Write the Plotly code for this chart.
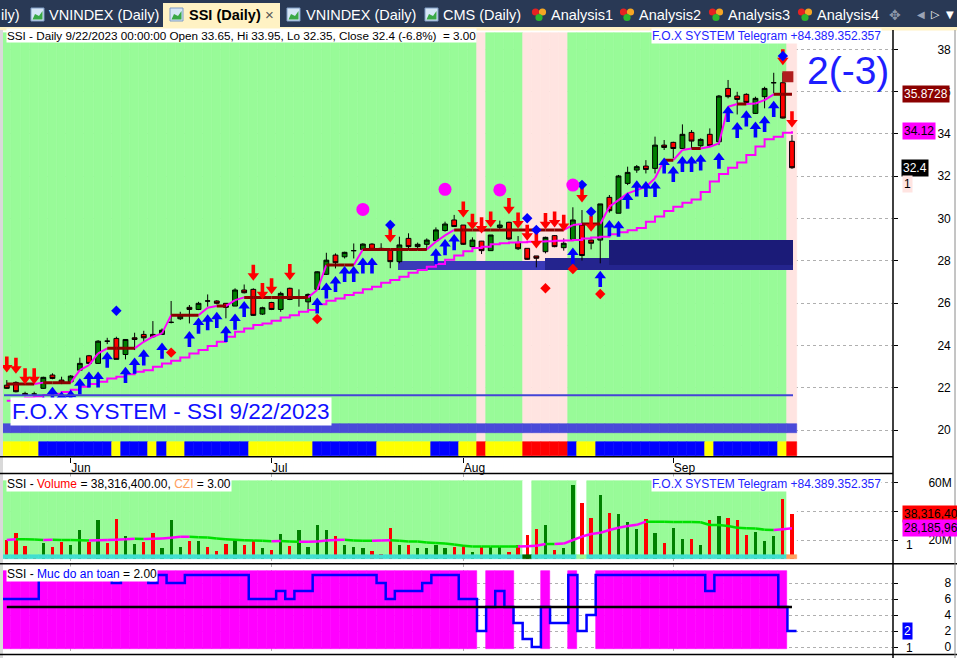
import plotly.graph_objects as go

# ====================== DATA ======================
month_labels = ["Jun", "Jul", "Aug", "Sep"]
month_start_bars = [7, 29, 50, 73]

opens = [22.12, 22.25, 21.73, 21.70, 21.97, 22.60, 22.36, 22.28, 22.83, 23.51,
         23.15, 24.20, 24.33, 23.57, 24.36, 24.52, 24.52, 24.52, 25.09, 25.26,
         25.80, 25.70, 26.10, 26.10, 25.99, 25.86, 26.62, 26.65, 25.48, 26.03,
         25.70, 26.70, 26.22, 26.06, 26.65, 27.36, 28.27, 28.19, 28.48, 28.54,
         28.79, 28.59, 28.51, 27.96, 29.06, 28.67, 28.78, 28.95, 29.43, 29.93,
         29.69, 28.67, 28.93, 28.48, 29.58, 29.82, 28.87, 28.59, 28.23, 28.43,
         29.19, 28.62, 29.01, 29.69, 28.98, 28.98, 31.00, 30.25, 31.66, 32.29,
         32.48, 32.37, 33.47, 33.60, 33.31, 34.07, 33.44, 33.98, 33.63, 36.15,
         35.79, 35.87, 34.97, 35.76, 36.42, 36.42, 33.65]
highs = [22.36, 22.30, 21.81, 21.81, 22.52, 22.68, 22.52, 22.60, 23.42, 23.55,
         24.25, 24.36, 24.41, 24.28, 24.60, 24.69, 25.15, 24.80, 26.10, 25.59,
         25.91, 26.06, 26.41, 26.14, 25.99, 26.70, 26.88, 26.70, 25.83, 26.06,
         26.54, 26.73, 26.65, 26.46, 27.51, 28.38, 28.35, 28.43, 28.82, 28.83,
         28.83, 28.83, 28.51, 29.14, 29.30, 28.86, 29.06, 29.58, 29.85, 30.17,
         29.69, 29.11, 28.94, 29.22, 29.90, 29.85, 29.17, 28.59, 28.23, 29.14,
         29.22, 29.06, 30.53, 30.40, 29.02, 30.69, 31.11, 32.06, 32.45, 32.53,
         32.76, 33.87, 33.71, 33.63, 34.45, 34.18, 33.79, 34.26, 35.84, 36.55,
         35.99, 35.92, 35.76, 36.23, 36.89, 36.89, 33.95]
lows = [21.94, 21.78, 21.60, 21.57, 21.95, 22.40, 22.17, 22.26, 22.80, 23.12,
        23.12, 24.06, 23.34, 23.34, 23.78, 24.17, 24.36, 24.49, 25.04, 25.20,
        25.04, 25.67, 25.83, 25.94, 25.28, 25.86, 26.46, 25.39, 25.44, 25.67,
        25.59, 26.14, 25.83, 25.67, 26.62, 27.33, 27.64, 28.11, 28.11, 28.51,
        28.51, 28.48, 27.65, 27.88, 28.51, 28.51, 28.51, 28.95, 29.38, 29.62,
        28.75, 28.59, 28.32, 28.48, 29.43, 28.98, 28.51, 28.04, 27.69, 28.35,
        28.64, 28.48, 28.98, 28.01, 28.54, 27.88, 30.28, 30.25, 31.58, 32.16,
        32.13, 32.13, 33.24, 32.84, 33.31, 33.31, 33.39, 33.39, 33.47, 35.68,
        34.92, 35.47, 34.94, 35.21, 35.92, 34.73, 32.35]
closes = [21.97, 21.81, 21.64, 21.70, 22.49, 22.44, 22.23, 22.55, 23.15, 23.15,
          24.20, 24.20, 23.34, 24.28, 24.28, 24.36, 24.41, 24.72, 25.09, 25.39,
          25.70, 25.99, 26.10, 25.99, 25.80, 26.62, 26.49, 25.42, 25.78, 25.70,
          26.46, 26.17, 26.22, 26.41, 27.48, 28.03, 27.91, 28.40, 28.48, 28.79,
          28.54, 28.51, 27.96, 28.75, 28.67, 28.78, 28.98, 29.46, 29.74, 29.62,
          28.78, 28.98, 28.48, 29.22, 29.69, 29.03, 28.57, 28.07, 28.12, 29.11,
          28.67, 28.83, 29.93, 28.25, 28.83, 30.69, 30.37, 32.01, 32.18, 32.45,
          32.32, 33.47, 33.36, 33.31, 33.98, 33.66, 33.74, 33.44, 35.79, 35.76,
          35.63, 35.49, 35.68, 36.15, 36.42, 34.75, 32.40]

volumes_m = [20.0, 24.7, 15.8, 8.4, 17.7, 15.4, 18.9, 16.5, 27.0, 18.9,
             34.0, 17.7, 34.7, 22.8, 17.2, 18.9, 24.7, 14.7, 34.0, 15.4,
             19.3, 19.3, 15.4, 12.6, 17.2, 21.0, 16.3, 20.0, 14.7, 13.1,
             24.2, 16.1, 27.0, 15.4, 30.5, 27.0, 22.8, 16.5, 15.4, 14.7,
             12.6, 10.3, 28.6, 16.5, 16.5, 14.2, 14.2, 16.5, 14.2, 15.4,
             16.5, 11.9, 15.4, 15.4, 15.4, 11.9, 16.5, 23.5, 27.7, 30.5,
             13.1, 14.2, 58.4, 46.1, 35.6, 51.4, 39.1, 38.2, 32.8, 27.5,
             34.4, 25.1, 18.2, 28.2, 20.5, 20.5, 16.5, 34.0, 36.8, 35.4,
             34.0, 23.5, 25.8, 19.6, 22.8, 48.6, 38.3164]
volume_dir = ("RRRRGRRGGR" "GRRGGRRGGG" "RGRRRGRRGR" "GRGGGGRGGG" "RRRGRGGGGR"
              "RGRGGRRRRG" "RGGRRGRGGG" "RGRGGRGRGR" "RRGGGRR")
volume_ma_m = [20.0, 20.5, 20.5, 20.3, 20.0, 20.2, 20.0, 20.0, 19.8, 19.6,
               19.9, 20.0, 20.2, 20.6, 20.8, 20.7, 20.9, 21.0, 21.6, 22.2,
               22.3, 22.0, 21.7, 21.0, 20.6, 20.2, 19.8, 19.6, 19.4, 19.2,
               19.3, 18.9, 18.7, 18.8, 19.0, 19.6, 20.0, 20.1, 19.7, 19.5,
               19.5, 19.7, 19.8, 19.4, 19.0, 18.9, 18.2, 17.9, 17.5, 16.8,
               16.0, 15.4, 15.4, 15.4, 15.4, 15.4, 15.4, 15.6, 16.0, 17.2,
               17.2, 17.5, 20.0, 22.4, 24.2, 25.0, 27.0, 28.6, 29.8, 30.6,
               32.8, 32.8, 32.8, 32.6, 32.5, 32.5, 32.4, 30.5, 30.4, 29.8,
               28.6, 28.2, 28.0, 27.2, 27.0, 27.5, 28.18596]

trail_upper = [22.17, 22.17, 22.17, 22.17, 22.24, 22.24, 22.24, 22.24, 22.83, 23.07,
               23.62, 23.86, 23.86, 23.86, 23.86, 24.17, 24.41, 24.57, 25.43, 25.43,
               25.43, 25.43, 25.78, 25.86, 25.86, 26.14, 26.27, 26.27, 26.27, 26.27,
               26.27, 26.27, 26.27, 26.27, 26.62, 27.80, 27.80, 27.80, 27.80, 28.54,
               28.54, 28.54, 28.54, 28.54, 28.54, 28.54, 28.54, 28.90, 29.20, 29.46,
               29.46, 29.46, 29.46, 29.46, 29.46, 29.46, 29.46, 29.46, 29.46, 29.46,
               29.46, 29.46, 29.69, 29.74, 29.74, 29.74, 30.56, 30.87, 31.19, 31.34,
               31.50, 31.90, 32.76, 32.76, 33.24, 33.31, 33.31, 33.39, 33.55, 35.28,
               35.41, 35.41, 35.44, 35.60, 35.8728, 35.8728, 35.8728]
trail_lower = [21.38, 21.45, 21.52, 21.58, 21.65, 21.72, 21.80, 21.90, 22.05, 22.17,
               22.28, 22.44, 22.52, 22.64, 22.75, 22.83, 22.99, 23.15, 23.27, 23.43,
               23.62, 23.78, 23.97, 24.17, 24.41, 24.65, 24.80, 24.96, 25.04, 25.17,
               25.32, 25.43, 25.59, 25.67, 25.95, 26.11, 26.22, 26.38, 26.49, 26.65,
               26.77, 26.96, 27.09, 27.25, 27.44, 27.57, 27.72, 27.85, 28.05, 28.25,
               28.45, 28.60, 28.67, 28.78, 28.83, 28.86, 28.88, 28.90, 28.91, 28.93,
               28.95, 28.96, 28.98, 29.05, 29.10, 29.14, 29.25, 29.35, 29.45, 29.55,
               29.85, 30.10, 30.35, 30.55, 30.75, 30.90, 31.25, 31.75, 32.10, 32.40,
               32.65, 33.00, 33.40, 33.75, 33.87, 34.05, 34.12]

safety_level = [6, 6, 6, 6, 9, 9, 9, 9, 9, 9,
                9, 9, 8, 9, 9, 9, 8, 9, 8, 8,
                9, 9, 9, 9, 9, 9, 9, 6, 6, 6,
                7, 6, 7, 7, 9, 9, 9, 9, 9, 9,
                9, 8, 6, 7, 7, 7, 8, 9, 9, 9,
                6, 6, 2, 5, 7, 5, 3, 1, 0, 5,
                3, 3, 9, 2, 4, 9, 9, 9, 9, 9,
                9, 9, 9, 9, 9, 9, 9, 7, 9, 9,
                9, 9, 9, 9, 9, 5, 2]
safety_threshold = 5

# Y = yellow, B = blue, R = red state strip under the price pane
state_strip = ("YYYY" "BBBBBBBB" "Y" "BBB" "Y" "B" "YY" "BBBBBBB" "YYYYYYY" "BBBBBBB"
               "YYYYYY" "BBB" "YY" "R" "YYYY" "RRRRR" "B" "YY" "BBBBBBBBBBBB" "Y"
               "BBBBBBB" "Y" "R")
# G = green background, P = pink background in price pane
price_bg_state = "G" * 52 + "P" + "GGGG" + "PPPPP" + "G" * 24 + "P"
volume_bg_gap_bars = [57, 63, 86]
czi_special = {57: "#006400", 63: "#98FB98", 86: "#FFA060"}

sell_bars = [0, 1, 2, 3, 27, 28, 29, 31, 42, 50, 51, 52, 53, 55, 56, 57, 58, 59,
             60, 61, 63, 64, 85, 86]
blue_diamonds = [(12, 25.64), (42, 29.69), (57, 30.01), (58, 29.46), (63, 31.59),
                 (64, 30.32), (85, 37.68)]
red_diamonds = [(18, 23.66), (34, 25.25), (59, 26.70), (62, 27.61), (65, 26.43)]
magenta_circles = [(39, 30.43), (48, 31.38), (54, 31.35), (62, 31.58)]
flag_bar, flag_price = 86, 36.70

# support zones: (from bar, to bar, low, high, colour)
zones = [(42.9, 86.1, 27.58, 28.00, "#3A3AB8"),
         (59.0, 86.1, 27.58, 28.15, "#24248E"),
         (66.0, 86.1, 27.80, 28.98, "#1B1B78")]
wave_count_text = "2(-3)"
symbol, date_text, czi_value = "SSI", "9/22/2023", 3.00

# ====================== LAYOUT GEOMETRY ======================
W, H = 957, 658
FONT = "Liberation Sans, Arial, sans-serif"


def pxx(p):
    return p / W


def pxy(p):
    return 1 - p / H


n = len(closes)
idx = list(range(n))
X_LEFT, X_RIGHT, BAR0, BARW = 3.0, 893.0, 6.8, 9.13
x_range = [(X_LEFT - BAR0) / BARW, (X_RIGHT - BAR0) / BARW]


def xdata(px):
    return (px - BAR0) / BARW


P_TOP, P_BOT = 28.0, 456.7
p_range = [18.738, 39.007]
ppu = (P_BOT - P_TOP) / (p_range[1] - p_range[0])


def price_at(py):
    return p_range[1] - (py - P_TOP) / ppu


V_TOP, V_BOT = 474.0, 563.5
v_range = [3.6, 66.07]
vpu = (V_BOT - V_TOP) / (v_range[1] - v_range[0])


def vol_at(py):
    return v_range[1] - (py - V_TOP) / vpu


I_TOP, I_BOT = 564.0, 655.0
i_range = [-1.0, 10.375]

fig = go.Figure()

# ---------- price pane ----------
bg_map = {"G": "#98FB98", "P": "#FFE4E1"}
bgc = [bg_map[c] for c in price_bg_state]
lo, hi = price_at(441.7), price_at(33.0)
fig.add_trace(go.Bar(x=idx, y=[hi - lo] * n, base=[lo] * n, width=1.0,
                     marker=dict(color=bgc, line=dict(color=bgc, width=0.6)),
                     hoverinfo="skip", yaxis="y"))
strip_map = {"Y": "#FFFF00", "B": "#0000FF", "R": "#FF0000"}
sc = [strip_map[c] for c in state_strip]
lo, hi = price_at(455.7), price_at(441.7)
fig.add_trace(go.Bar(x=idx, y=[hi - lo] * n, base=[lo] * n, width=1.0,
                     marker=dict(color=sc, line=dict(color=sc, width=0.6)),
                     hoverinfo="skip", yaxis="y"))
lo, hi = price_at(432.7), price_at(424.0)
fig.add_trace(go.Bar(x=idx, y=[hi - lo] * n, base=[lo] * n, width=1.0,
                     marker=dict(color="#4A4AD9", line=dict(color="#4A4AD9", width=0.6)),
                     hoverinfo="skip", yaxis="y"))
for (a, b, zl, zh, col) in zones:
    fig.add_trace(go.Bar(x=[(a + b) / 2], y=[zh - zl], base=[zl], width=[b - a],
                         marker=dict(color=col, line=dict(width=0)),
                         hoverinfo="skip", yaxis="y"))

# lower trailing line
fig.add_trace(go.Scatter(x=idx, y=trail_lower, mode="lines", line=dict(color="#FF00FF", width=2, shape="hv"),
                         hoverinfo="skip", yaxis="y"))


def segs(vals, pick):
    xs, ys = [], []
    for i in range(1, len(vals)):
        if pick(vals[i - 1], vals[i]):
            xs += [i - 1, i, None]
            ys += [vals[i - 1], vals[i], None]
    return xs, ys


xs, ys = segs(trail_upper, lambda a, b: b != a)
fig.add_trace(go.Scatter(x=xs, y=ys, mode="lines", line=dict(color="#FF00FF", width=2),
                         hoverinfo="skip", yaxis="y"))
xs, ys = segs(trail_upper, lambda a, b: b == a)
fig.add_trace(go.Scatter(x=xs, y=ys, mode="lines", line=dict(color="#8B0000", width=3),
                         hoverinfo="skip", yaxis="y"))

fig.add_trace(go.Candlestick(
    x=idx, open=opens, high=highs, low=lows, close=closes,
    increasing=dict(line=dict(color="#000000", width=1), fillcolor="#008000"),
    decreasing=dict(line=dict(color="#000000", width=1), fillcolor="#FF0000"),
    whiskerwidth=0, hoverinfo="skip", yaxis="y"))

# arrows
buy_bars = [i for i, c in enumerate(state_strip) if c == "B"]
GAP, R, STEM = 7.5, 5.0, 8.0
tips = [lows[i] - GAP / ppu for i in buy_bars]
fig.add_trace(go.Scatter(x=buy_bars, y=[t - (1.5 * R + STEM / 2 - 1) / ppu for t in tips], mode="markers",
                         marker=dict(symbol="line-ns", size=STEM, line=dict(color="#0000FF", width=3.6)),
                         hoverinfo="skip", yaxis="y"))
fig.add_trace(go.Scatter(x=buy_bars, y=[t - R / ppu for t in tips], mode="markers",
                         marker=dict(symbol="triangle-up", size=2 * R, color="#0000FF", line=dict(width=0)),
                         hoverinfo="skip", yaxis="y"))
tips = [highs[i] + GAP / ppu for i in sell_bars]
fig.add_trace(go.Scatter(x=sell_bars, y=[t + (1.5 * R + STEM / 2 - 1) / ppu for t in tips], mode="markers",
                         marker=dict(symbol="line-ns", size=STEM, line=dict(color="#FF0000", width=3.6)),
                         hoverinfo="skip", yaxis="y"))
fig.add_trace(go.Scatter(x=sell_bars, y=[t + R / ppu for t in tips], mode="markers",
                         marker=dict(symbol="triangle-down", size=2 * R, color="#FF0000", line=dict(width=0)),
                         hoverinfo="skip", yaxis="y"))
for pts, col in ((blue_diamonds, "#0000FF"), (red_diamonds, "#FF0000")):
    fig.add_trace(go.Scatter(x=[p[0] for p in pts], y=[p[1] for p in pts], mode="markers",
                             marker=dict(symbol="diamond", size=8, color=col, line=dict(width=0)),
                             hoverinfo="skip", yaxis="y"))
fig.add_trace(go.Scatter(x=[p[0] for p in magenta_circles], y=[p[1] for p in magenta_circles], mode="markers",
                         marker=dict(symbol="circle", size=13, color="#FF00FF", line=dict(width=0)),
                         hoverinfo="skip", yaxis="y"))
fig.add_trace(go.Scatter(x=[flag_bar - 0.45], y=[flag_price], mode="markers",
                         marker=dict(symbol="square", size=11, color="#B01E1E", line=dict(width=0)),
                         hoverinfo="skip", yaxis="y"))

# ---------- volume pane ----------
vbg = ["#FFFFFF" if i in volume_bg_gap_bars else "#98FB98" for i in idx]
lo, hi = vol_at(555.0), vol_at(480.7)
fig.add_trace(go.Bar(x=idx, y=[hi - lo] * n, base=[lo] * n, width=1.0,
                     marker=dict(color=vbg, line=dict(color=vbg, width=0.6)),
                     hoverinfo="skip", yaxis="y2"))
vbase = vol_at(559.0)
vcol = ["#FF0000" if c == "R" else "#008000" for c in volume_dir]
fig.add_trace(go.Bar(x=idx, y=[v - vbase for v in volumes_m], base=[vbase] * n, width=0.36,
                     marker=dict(color=vcol, line=dict(width=0)), hoverinfo="skip", yaxis="y2"))
cz = [czi_special.get(i, "#40E0D0") for i in idx]
lo, hi = vol_at(559.0), vol_at(555.0)
fig.add_trace(go.Bar(x=idx, y=[hi - lo] * n, base=[lo] * n, width=1.0,
                     marker=dict(color=cz, line=dict(color=cz, width=0.6)),
                     hoverinfo="skip", yaxis="y2"))
xs, ys = segs(volume_ma_m, lambda a, b: b <= a)
fig.add_trace(go.Scatter(x=xs, y=ys, mode="lines", line=dict(color="#00E000", width=2.5),
                         hoverinfo="skip", yaxis="y2"))
xs, ys = segs(volume_ma_m, lambda a, b: b > a)
fig.add_trace(go.Scatter(x=xs, y=ys, mode="lines", line=dict(color="#FF00FF", width=2.5),
                         hoverinfo="skip", yaxis="y2"))

# ---------- safety pane ----------
on = [i for i in idx if safety_level[i] >= safety_threshold]
fig.add_trace(go.Bar(x=on, y=[9.75] * len(on), base=[-0.25] * len(on), width=1.0,
                     marker=dict(color="#FF00FF", line=dict(color="#FF00FF", width=0.6)),
                     hoverinfo="skip", yaxis="y3"))
fig.add_trace(go.Scatter(x=[i - 0.5 for i in idx] + [n - 0.5], y=safety_level + [safety_level[-1]],
                         mode="lines", line=dict(color="#0000FF", width=2.5, shape="hv"),
                         hoverinfo="skip", yaxis="y3"))
fig.add_trace(go.Scatter(x=[0, n - 1], y=[safety_threshold] * 2, mode="lines",
                         line=dict(color="#000000", width=2.5), hoverinfo="skip", yaxis="y3"))

# pointer triangles for right-hand value labels
for yv, col, ax in ((closes[-1], "#000000", "y"), (volumes_m[-1], "#FF0000", "y2"),
                    (safety_level[-1], "#0000FF", "y3")):
    fig.add_trace(go.Scatter(x=[xdata(898.3)], y=[yv], mode="markers", cliponaxis=False,
                             marker=dict(symbol="triangle-left", size=9, color=col, line=dict(width=0)),
                             hoverinfo="skip", yaxis=ax))

# ====================== AXES ======================
grid = dict(showgrid=True, gridcolor="#AFAFAF", griddash="dot", gridwidth=1, zeroline=False)
yax = dict(side="right", anchor="x", ticks="outside", ticklen=4, tickcolor="#000000",
           tickfont=dict(family=FONT, size=12, color="#000000"), showline=False, fixedrange=True, **grid)
fig.update_layout(
    width=W, height=H, autosize=False, margin=dict(l=0, r=0, t=0, b=0),
    paper_bgcolor="#FFFFFF", plot_bgcolor="#FFFFFF", showlegend=False,
    barmode="overlay", bargap=0, boxgap=0.25, font=dict(family=FONT, size=12, color="#000000"),
    xaxis=dict(domain=[pxx(X_LEFT), pxx(X_RIGHT)], range=x_range, anchor="y",
               tickvals=month_start_bars, ticktext=month_labels, ticks="outside", ticklen=5,
               tickcolor="#000000", ticklabelposition="outside right",
               tickfont=dict(family=FONT, size=12, color="#000000"),
               rangeslider=dict(visible=False), showline=False, fixedrange=True, **grid),
    yaxis=dict(domain=[pxy(P_BOT), pxy(P_TOP)], range=p_range, tickvals=list(range(20, 39, 2)),
               ticklabelstandoff=37, **yax),
    yaxis2=dict(domain=[pxy(V_BOT), pxy(V_TOP)], range=v_range, tickvals=[20, 40, 60],
                ticktext=["20M", "40M", "60M"], ticklabelstandoff=28, **yax),
    yaxis3=dict(domain=[pxy(I_BOT), pxy(I_TOP)], range=i_range, tickvals=[0, 2, 4, 6, 8],
                ticklabelstandoff=44, **yax),
)

# ====================== SHAPES (frame, tab bar) ======================
shapes = []


def rect(x0, y0, x1, y1, fill, line=None, lw=0):
    shapes.append(dict(type="rect", xref="paper", yref="paper", x0=pxx(x0), x1=pxx(x1),
                       y0=pxy(y1), y1=pxy(y0), fillcolor=fill,
                       line=dict(color=line or fill, width=lw), layer="above"))


def hline(y, x0, x1, col="#000000", w=1.5):
    shapes.append(dict(type="line", xref="paper", yref="paper", x0=pxx(x0), x1=pxx(x1),
                       y0=pxy(y), y1=pxy(y), line=dict(color=col, width=w), layer="above"))


def vline(x, y0, y1, col="#000000", w=1.5):
    shapes.append(dict(type="line", xref="paper", yref="paper", x0=pxx(x), x1=pxx(x),
                       y0=pxy(y0), y1=pxy(y1), line=dict(color=col, width=w), layer="above"))


rect(0, 0, W, 27, "#293955")
rect(0, 27, W, 30.5, "#FFF2C4")
rect(163, 3, 280, 28, "#FFF2C4")
rect(0, 30, 3, H, "#D9D9D9")
for x0 in (31, 170, 287, 425):
    rect(x0, 8, x0 + 13, 21, "#D6E6F6", "#7F9CC4", 1)
    shapes.append(dict(type="path", xref="paper", yref="paper", layer="above",
                       path="M {a},{b} L {c},{d} L {e},{f} L {g},{h} L {g},{b} Z".format(
                           a=pxx(x0 + 1.5), b=pxy(19.5), c=pxx(x0 + 4), d=pxy(14), e=pxx(x0 + 8),
                           f=pxy(16), g=pxx(x0 + 11.5), h=pxy(11)),
                       fillcolor="#39A845", line=dict(width=0)))
for x0 in (532, 620, 709, 798):
    for cx, cy, col in ((x0 + 3.5, 12.0, "#E52222"), (x0 + 10.5, 12.0, "#F5A623"), (x0 + 7, 17.5, "#2DB52D")):
        shapes.append(dict(type="circle", xref="paper", yref="paper", layer="above",
                           x0=pxx(cx - 3.6), x1=pxx(cx + 3.6), y0=pxy(cy + 3.6), y1=pxy(cy - 3.6),
                           fillcolor=col, line=dict(width=0)))
hline(395.3, 4, 793, "#4444D6", 2)
hline(456.7, 0, X_RIGHT)
hline(473.5, 0, X_RIGHT)
hline(563.8, 0, W)
hline(654.5, 0, W)
vline(X_RIGHT, 30, H)
vline(955, 30, H, "#8A8A8A", 1)
fig.update_layout(shapes=shapes)

# ====================== ANNOTATIONS ======================
ann = []


def text(x, y, s, size=12, color="#000000", bg=None, anchor="left", yref="paper", pad=0, **kw):
    d = dict(x=pxx(x), xref="paper", y=(pxy(y) if yref == "paper" else y), yref=yref, text=s,
             showarrow=False, xanchor=anchor, yanchor="middle",
             font=dict(family=kw.pop("family", FONT), size=size, color=color), borderpad=pad)
    if bg:
        d["bgcolor"] = bg
    d.update(kw)
    ann.append(d)


# tab bar
text(0, 14.5, "ily)", 14.5, "#FFFFFF")
text(48, 14.5, "VNINDEX (Daily)", 14.5, "#FFFFFF")
text(188, 14.5, "<b>SSI (Daily)</b>", 14.5, "#000000")
text(264, 14.5, "×", 15, "#555555")
text(305, 14.5, "VNINDEX (Daily)", 14.5, "#FFFFFF")
text(442, 14.5, "CMS (Daily)", 14.5, "#FFFFFF")
for x0, s in ((550, "Analysis1"), (638, "Analysis2"), (727, "Analysis3"), (816, "Analysis4")):
    text(x0, 14.5, s, 14.5, "#FFFFFF")
text(888, 14.5, "✥", 14, "#8C96A8", family="DejaVu Sans")
text(916, 14.5, "◀", 10, "#9AA3B5", family="DejaVu Sans")
text(930, 14.5, "▷", 11, "#FFFFFF", family="DejaVu Sans")
text(945, 14.5, "▼", 10, "#FFFFFF", family="DejaVu Sans")

# pane titles
prev = closes[-2]
pct = (closes[-1] - prev) / prev * 100
title = (f"{symbol} - Daily {date_text} 00:00:00 Open {opens[-1]:.2f}, Hi {highs[-1]:.2f}, "
         f"Lo {lows[-1]:.2f}, Close {closes[-1]:g} ({pct:.1f}%)  = {czi_value:.2f}")
text(6, 36, title, 11.7, "#000000", "#FFFFFF")
tele = "F.O.X SYSTEM Telegram +84.389.352.357"
text(651, 36, tele, 12, "#2323FF", "#FFFFFF")
text(848, 71, wave_count_text, 39, "#1E1EFF", anchor="center")
text(10, 411.5, f"F.O.X SYSTEM - {symbol} {date_text}", 22.5, "#1010FF", "#FFFFFF", pad=1)

vol_full = volumes_m[-1] * 1e6
text(6, 484.5, f"{symbol} - <span style='color:#FF0000'>Volume</span> = {vol_full:,.2f}, "
     f"<span style='color:#FFA060'>CZI</span> = {czi_value:.2f}", 12, "#000000", "#FFFFFF")
text(651, 484.5, tele, 12, "#2323FF", "#FFFFFF")
text(6, 574, f"{symbol} - <span style='color:#0000FF'>Muc do an toan</span> = {safety_level[-1]:.2f}",
     12, "#000000", "#FFFFFF")

# right-hand value labels
text(901.7, trail_upper[-1], f"{trail_upper[-1]:g}", 12, "#FFFFFF", "#8B0000", yref="y", pad=1)
text(901.7, trail_lower[-1], f"{trail_lower[-1]:g}", 12, "#000000", "#FF00FF", yref="y", pad=1)
text(900.5, closes[-1], f"{closes[-1]:g}", 12, "#FFFFFF", "#000000", yref="y", pad=1)
text(901.7, 183.7, "1", 12, "#000000", "#FFE4E1", pad=1)
text(901.7, volumes_m[-1], f"{vol_full:,.0f}", 12, "#000000", "#FF0000", yref="y2", pad=1)
text(901.7, volume_ma_m[-1], f"{volume_ma_m[-1] * 1e6:,.0f}", 12, "#000000", "#FF00FF", yref="y2", pad=1)
text(905, 545, "1", 12, "#000000")
text(901.7, safety_level[-1], f"{safety_level[-1]}", 12, "#FFFFFF", "#0000FF", yref="y3", pad=1)
text(905, 647.5, "1", 12, "#000000")

fig.update_layout(annotations=ann)

fig.write_html("out.html", config={"displayModeBar": False},
               post_script="document.body.style.margin='0';document.body.style.overflow='hidden';")
